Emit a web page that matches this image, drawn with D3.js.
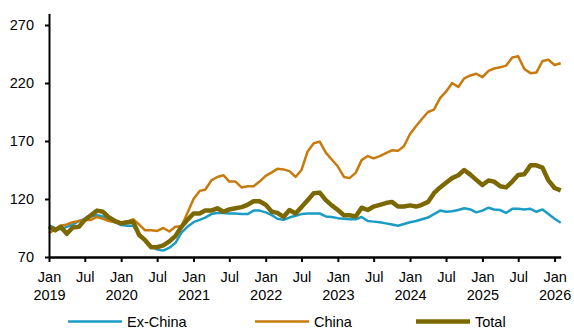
<!DOCTYPE html>
<html>
<head>
<meta charset="utf-8">
<script src="https://cdn.jsdelivr.net/npm/d3@7"></script>
<style>
  html, body { margin: 0; padding: 0; background: #fff; }
  svg { display: block; font-family: "Liberation Sans", Arial, sans-serif; }
</style>
</head>
<body>
<svg id="chart" width="574" height="329"></svg>
<script>
// Monthly index values, Jan 2019 – Feb 2026
const startYear = 2019;
const exChina = [
  97, 95, 94, 96, 98, 101, 102.5, 105, 106, 105, 103, 100,
  97.5, 97, 97, 90, 84, 79, 76.5, 75.5, 78, 82, 91, 96,
  100, 102, 104, 107, 108, 108, 107.5, 107.5, 107, 107, 110, 110,
  108.5, 106, 103, 102, 104, 105.5, 107, 107.5, 107.5, 107.5, 105, 104.5,
  103.5, 103, 102.5, 102.5, 104.5, 101, 100.5, 100, 99, 98, 97, 98.5,
  100, 101, 102.5, 104, 107, 110, 109, 109.5, 110.5, 112, 111, 108.5,
  110, 112.5, 111, 110.5, 108, 111.5, 111.5, 111, 111.5, 109, 111, 107,
  103, 99.5
];
const china = [
  90.5, 94, 97, 98, 100, 101, 102, 102, 104.5, 103, 101, 100,
  100, 100.5, 102.5, 98, 93, 93, 92.5, 95, 92, 96, 96.5, 108,
  120, 127, 128, 136, 139, 140.5, 135, 135, 130, 131, 131, 135,
  140, 143, 146, 145.5, 144, 139, 145, 161, 168, 169.5, 160, 154,
  148, 139, 138, 142.5, 153.5, 157, 155, 157, 159.5, 162, 161.5, 165.5,
  176, 183, 189, 195, 197, 207, 212.5, 220, 216.5, 224, 226.5, 228,
  225, 230.5, 232.5, 233.5, 235, 242, 243, 232, 228.5, 229, 239, 240,
  235.5, 237
];
const total = [
  96.5, 93, 96, 90, 95.5, 96, 102, 106, 110, 109, 104, 101,
  99, 100, 100.5, 89, 84.5, 78.5, 78.5, 80, 83.5, 88, 96, 102,
  107.5, 107.5, 110, 110, 112, 109, 111, 112, 113, 115, 118, 118,
  115, 109, 108, 104.5, 110.5, 107.5, 113, 119, 125, 125.5, 119, 114.5,
  110.5, 106, 106, 105, 112.5, 110.5, 113.5, 115, 116.5, 117.5, 113.5, 113.5,
  114.5, 113.5, 115, 117.5, 125, 130, 134, 138, 140.5, 145, 141, 136.5,
  132, 136, 135, 131, 130, 135, 140.7, 141.3, 149, 149, 147, 136,
  129.5, 127.5
];
const yTicks = [70, 120, 170, 220, 270];
const seriesNames = ["Ex-China", "China", "Total"];
const seriesColors = ["#1a9cc4", "#c87a0c", "#7c6800"];
const seriesWidths = [2.5, 2.5, 4.5];

const dates = exChina.map((_, i) => new Date(startYear, i, 1));
const series = [exChina, china, total];

const svg = d3.select("#chart");
const font = "Liberation Sans, Arial, sans-serif";

const x = d3.scaleTime()
  .domain([new Date(2019, 0, 1), new Date(2026, 1, 1)])
  .range([49, 560.7]);
const y = d3.scaleLinear().domain([70, 280]).range([257, 13.4]);

// Data lines (Total drawn last, on top)
const line = d3.line().x((d, i) => x(dates[i])).y(d => y(d));
series.forEach((s, k) => {
  svg.append("path")
    .datum(s)
    .attr("fill", "none")
    .attr("stroke", seriesColors[k])
    .attr("stroke-width", seriesWidths[k])
    .attr("stroke-linejoin", "round")
    .attr("d", line);
});

// Y axis
const yAxis = svg.append("g")
  .attr("transform", "translate(49,0)")
  .call(d3.axisLeft(y).tickValues(yTicks).tickSize(4).tickPadding(11).tickSizeOuter(0));
yAxis.select(".domain").attr("stroke", "#000").attr("stroke-width", 2);
yAxis.selectAll(".tick line").attr("stroke", "#000").attr("stroke-width", 2);
yAxis.selectAll("text").attr("font-size", 14.5).attr("font-family", font).attr("fill", "#000");

// X axis: ticks every six months, labels Jan/Jul with year under Jan
const xTicks = d3.timeMonth.every(6).range(new Date(2019, 0, 1), new Date(2026, 1, 1));
const xAxis = svg.append("g")
  .attr("transform", "translate(0,257)")
  .call(d3.axisBottom(x).tickValues(xTicks).tickSize(5).tickSizeOuter(0).tickFormat(""));
xAxis.select(".domain").attr("stroke", "#000").attr("stroke-width", 2.5);
xAxis.selectAll(".tick line").attr("stroke", "#000").attr("stroke-width", 2);
xAxis.selectAll(".tick").each(function (d) {
  const g = d3.select(this);
  g.append("text")
    .attr("y", 24.5)
    .attr("text-anchor", "middle")
    .attr("font-size", 14.5)
    .attr("font-family", font)
    .attr("fill", "#000")
    .text(d3.timeFormat("%b")(d));
  if (d.getMonth() === 0) {
    g.append("text")
      .attr("y", 42.5)
      .attr("text-anchor", "middle")
      .attr("font-size", 14.5)
      .attr("font-family", font)
      .attr("fill", "#000")
      .text(d.getFullYear());
  }
});

// Legend
const legendX = [68, 255, 416];
const legend = svg.append("g");
seriesNames.forEach((name, k) => {
  legend.append("line")
    .attr("x1", legendX[k]).attr("x2", legendX[k] + 54)
    .attr("y1", 321.5).attr("y2", 321.5)
    .attr("stroke", seriesColors[k])
    .attr("stroke-width", seriesWidths[k]);
  legend.append("text")
    .attr("x", legendX[k] + 59)
    .attr("y", 326.5)
    .attr("font-size", 14.5)
    .attr("font-family", font)
    .attr("fill", "#000")
    .text(name);
});
</script>
</body>
</html>
